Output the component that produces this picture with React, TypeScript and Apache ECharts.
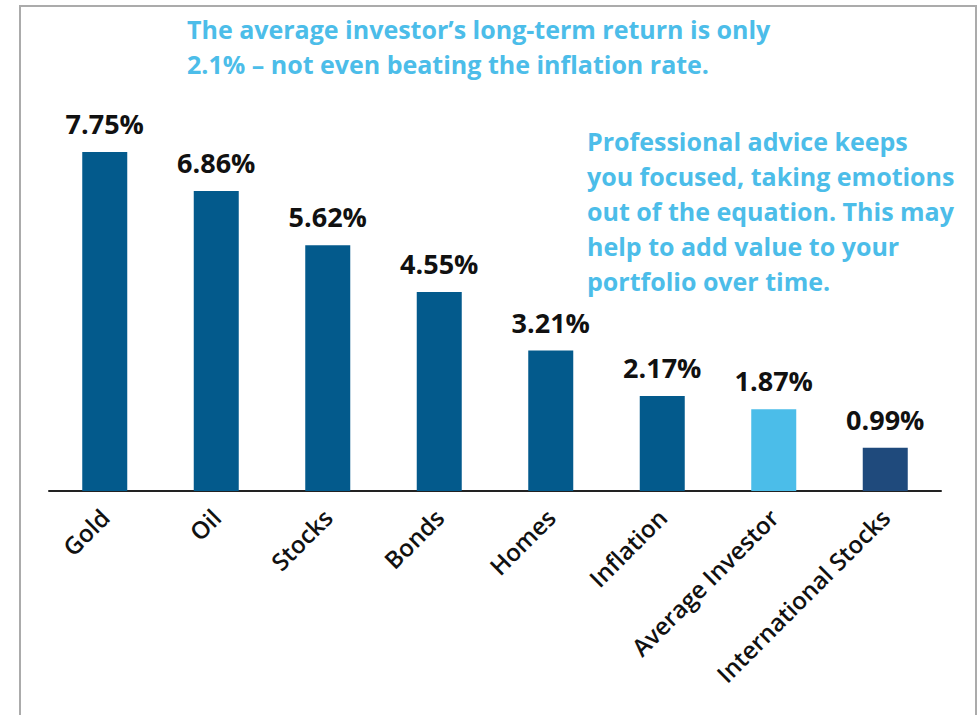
import React, { useEffect, useRef } from "react";
import * as echarts from "echarts";

const categories = ["Gold", "Oil", "Stocks", "Bonds", "Homes", "Inflation", "Average Investor", "International Stocks"];
const returns = [7.75, 6.86, 5.62, 4.55, 3.21, 2.17, 1.87, 0.99];
const barColors = ["#035a8c", "#035a8c", "#035a8c", "#035a8c", "#035a8c", "#035a8c", "#4bbde9", "#1f4a7c"];
const headline = "The average investor\u2019s long-term return is only\n2.1% \u2013 not even beating the inflation rate.";
const sideNote = "Professional advice keeps\nyou focused, taking emotions\nout of the equation. This may\nhelp to add value to your\nportfolio over time.";

const FONT = "'Open Sans', 'Noto Sans', sans-serif";

export default function App() {
  const ref = useRef<HTMLDivElement>(null);
  useEffect(() => {
    if (!ref.current) return;
    const chart = echarts.init(ref.current, undefined, { renderer: "svg" });
    chart.setOption({
      animation: false,
      backgroundColor: "#ffffff",
      grid: { left: 49, right: 39, top: 53.5, bottom: 224, containLabel: false },
      xAxis: {
        type: "category",
        data: categories,
        axisLine: { lineStyle: { color: "#222", width: 2 } },
        axisTick: { show: false },
        axisLabel: {
          interval: 0,
          rotate: 45,
          margin: 22,
          color: "#111",
          fontSize: 24,
          fontWeight: 600,
          fontFamily: FONT,
        },
      },
      yAxis: { type: "value", min: 0, max: 10, show: false, splitLine: { show: false } },
      series: [
        {
          type: "bar",
          barWidth: 45,
          data: returns.map((v, i) => ({ value: v, itemStyle: { color: barColors[i] } })),
          label: {
            show: true,
            position: "top",
            distance: 15,
            color: "#111",
            fontSize: 27,
            fontWeight: "bold",
            fontFamily: FONT,
            formatter: (p: any) => Number(p.value).toFixed(2) + "%",
          },
        },
      ],
      graphic: [
        {
          type: "rect",
          shape: { x: 20, y: 6, width: 956, height: 720 },
          style: { fill: "none", stroke: "#ababab", lineWidth: 2 },
          silent: true,
        },
        {
          type: "text",
          x: 187,
          y: 11,
          style: {
            text: headline,
            fill: "#4cbde9",
            font: `bold 25px ${FONT}`,
            lineHeight: 35,
          },
        },
        {
          type: "text",
          x: 587,
          y: 123,
          style: {
            text: sideNote,
            fill: "#4cbde9",
            font: `bold 25px ${FONT}`,
            lineHeight: 35,
          },
        },
      ],
    });
    return () => chart.dispose();
  }, []);
  return <div ref={ref} style={{ position: "fixed", left: 0, top: 0, width: 980, height: 715 }} />;
}
